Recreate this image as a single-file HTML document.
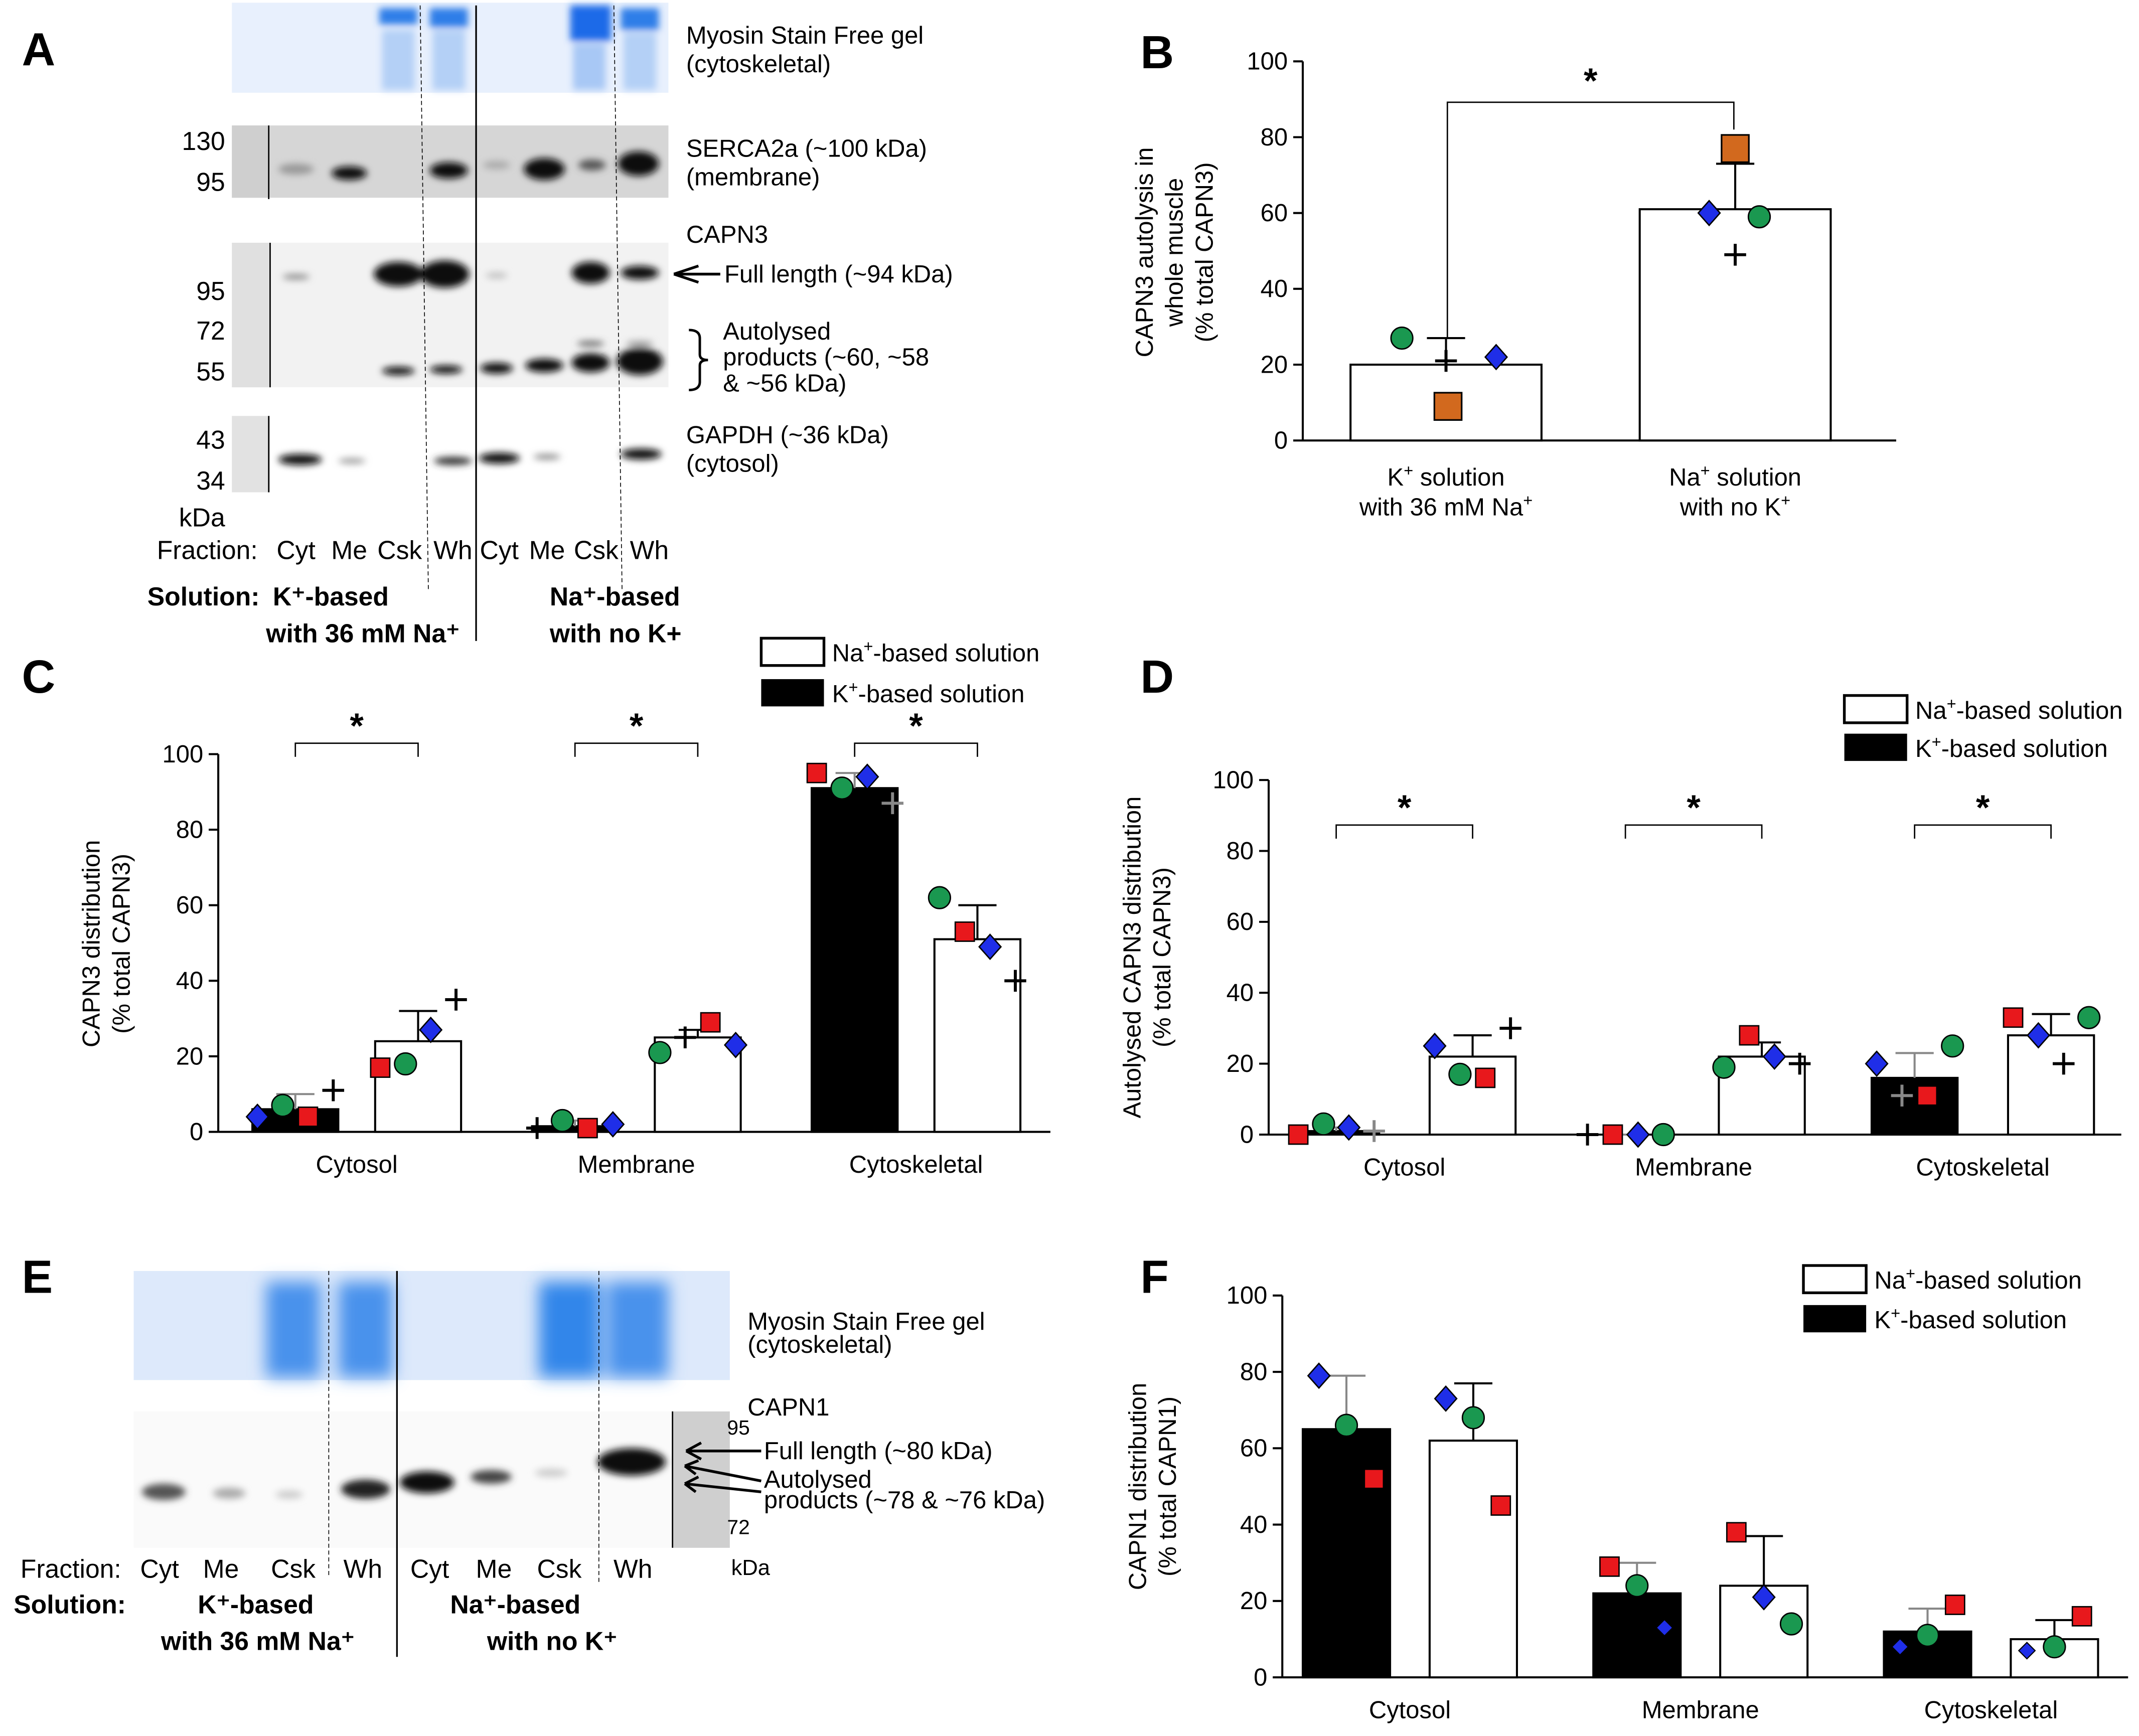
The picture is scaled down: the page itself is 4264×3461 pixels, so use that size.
<!DOCTYPE html>
<html><head><meta charset="utf-8">
<style>
html,body{margin:0;padding:0;background:#fff;}
svg{display:block;font-family:"Liberation Sans",Arial,sans-serif;}
</style></head>
<body>
<svg id="fig" xmlns="http://www.w3.org/2000/svg" width="4264" height="3461" viewBox="0 0 1568 1273" preserveAspectRatio="none">
<defs>
<filter id="bl" x="-50%" y="-200%" width="200%" height="500%"><feGaussianBlur stdDeviation="2.5"/></filter>
<filter id="bl2" x="-50%" y="-50%" width="200%" height="200%"><feGaussianBlur stdDeviation="6"/></filter>
</defs>

<!-- ===== Panel A ===== -->
<g>
<text x="16" y="48" font-size="34" font-weight="bold">A</text>
<rect x="170" y="2" width="320" height="66" fill="#e8f0fd"/>
<g filter="url(#bl)">
<rect x="278" y="6" width="28" height="12" fill="#2f7ee8"/><rect x="315" y="6" width="28" height="14" fill="#2f7ee8"/>
<rect x="418" y="4" width="30" height="26" fill="#1a6ae8"/><rect x="455" y="6" width="28" height="16" fill="#2f7ee8"/>
<rect x="280" y="22" width="24" height="44" fill="#b4d0f6"/><rect x="317" y="22" width="24" height="44" fill="#b4d0f6"/>
<rect x="420" y="32" width="24" height="34" fill="#a8c8f5"/><rect x="457" y="24" width="24" height="42" fill="#b4d0f6"/>
</g>
<rect x="170" y="92" width="320" height="53" fill="#d6d6d6"/>
<rect x="170" y="178" width="320" height="106" fill="#f2f2f2"/>
<rect x="170" y="305" width="28" height="56" fill="#e2e2e2"/>
<g filter="url(#bl)" fill="#111">
<ellipse cx="217" cy="124" rx="13" ry="4" fill="#999"/><ellipse cx="256" cy="127" rx="13" ry="5"/>
<ellipse cx="329" cy="125" rx="14" ry="6"/><ellipse cx="364" cy="121" rx="10" ry="3" fill="#aaa"/>
<ellipse cx="399" cy="124" rx="15" ry="8"/><ellipse cx="434" cy="121" rx="10" ry="4" fill="#555"/><ellipse cx="468" cy="120" rx="15" ry="9"/>
<ellipse cx="217" cy="203" rx="10" ry="2" fill="#888"/>
<ellipse cx="292" cy="201" rx="18" ry="9"/><ellipse cx="326" cy="201" rx="18" ry="10"/>
<ellipse cx="364" cy="202" rx="8" ry="2" fill="#bbb"/>
<ellipse cx="433" cy="200" rx="14" ry="8"/><ellipse cx="469" cy="200" rx="14" ry="5"/>
<ellipse cx="292" cy="272" rx="12" ry="3"/><ellipse cx="327" cy="271" rx="12" ry="3"/>
<ellipse cx="364" cy="270" rx="12" ry="4"/><ellipse cx="399" cy="268" rx="14" ry="5"/>
<ellipse cx="433" cy="266" rx="14" ry="7"/><ellipse cx="469" cy="265" rx="17" ry="10"/>
<ellipse cx="433" cy="252" rx="10" ry="2" fill="#666"/><ellipse cx="469" cy="252" rx="10" ry="2" fill="#999"/>
<ellipse cx="220" cy="337" rx="16" ry="4"/><ellipse cx="258" cy="338" rx="10" ry="2" fill="#999"/>
<ellipse cx="332" cy="338" rx="14" ry="3" fill="#333"/><ellipse cx="366" cy="336" rx="15" ry="4"/>
<ellipse cx="401" cy="335" rx="10" ry="2" fill="#888"/><ellipse cx="470" cy="333" rx="15" ry="4"/>
</g>
<rect x="170" y="92" width="27" height="53" fill="#cfcfcf"/>
<rect x="170" y="178" width="28" height="106" fill="#e0e0e0"/>
<line x1="197" y1="92" x2="197" y2="146" stroke="#000" stroke-width="1"/>
<line x1="198" y1="178" x2="198" y2="284" stroke="#000" stroke-width="1"/>
<line x1="197" y1="305" x2="197" y2="361" stroke="#000" stroke-width="1"/>
<line x1="349" y1="4" x2="349" y2="470" stroke="#000" stroke-width="1.2"/>
<line x1="308" y1="4" x2="314" y2="432" stroke="#000" stroke-width="0.6" stroke-dasharray="3,2"/>
<line x1="450" y1="4" x2="456" y2="432" stroke="#000" stroke-width="0.6" stroke-dasharray="3,2"/>
<g font-size="19" text-anchor="end">
<text x="165" y="110">130</text><text x="165" y="140">95</text>
<text x="165" y="220">95</text><text x="165" y="249">72</text><text x="165" y="279">55</text>
<text x="165" y="329">43</text><text x="165" y="359">34</text><text x="165" y="386">kDa</text>
</g>
<g font-size="19">
<text x="115" y="410">Fraction:</text>
<text x="217" y="410" text-anchor="middle">Cyt</text><text x="256" y="410" text-anchor="middle">Me</text>
<text x="293" y="410" text-anchor="middle">Csk</text><text x="332" y="410" text-anchor="middle">Wh</text>
<text x="366" y="410" text-anchor="middle">Cyt</text><text x="401" y="410" text-anchor="middle">Me</text>
<text x="437" y="410" text-anchor="middle">Csk</text><text x="476" y="410" text-anchor="middle">Wh</text>
</g>
<g font-size="19" font-weight="bold">
<text x="108" y="444">Solution:</text><text x="200" y="444">K⁺-based</text><text x="195" y="471">with 36 mM Na⁺</text>
<text x="403" y="444">Na⁺-based</text><text x="403" y="471">with no K+</text>
</g>
<g font-size="18">
<text x="503" y="32">Myosin Stain Free gel</text><text x="503" y="53">(cytoskeletal)</text>
<text x="503" y="115">SERCA2a (~100 kDa)</text><text x="503" y="136">(membrane)</text>
<text x="503" y="178">CAPN3</text>
<text x="531" y="207">Full length (~94 kDa)</text>
<text x="530" y="249">Autolysed</text><text x="530" y="268">products (~60, ~58</text><text x="530" y="287">&amp; ~56 kDa)</text>
<text x="503" y="325">GAPDH (~36 kDa)</text><text x="503" y="346">(cytosol)</text>
</g>
<path d="M528 201 L494 201 M494 201 L512 195 M494 201 L512 207" stroke="#000" stroke-width="2" fill="none"/>
<path d="M505 242 q8 0 8 6 v12 q0 4 6 4 q-6 0 -6 4 v12 q0 6 -8 6" stroke="#000" stroke-width="1.8" fill="none"/>
</g>

<!-- ===== Panel E ===== -->
<g>
<text x="16" y="948" font-size="34" font-weight="bold">E</text>
<rect x="98" y="932" width="437" height="80" fill="#dde9fb"/>
<g filter="url(#bl2)" fill="#4a92ec">
<rect x="195" y="940" width="40" height="70"/><rect x="248" y="940" width="40" height="70"/>
<rect x="395" y="940" width="45" height="70" fill="#3386ea"/><rect x="445" y="940" width="45" height="70"/>
</g>
<rect x="98" y="1035" width="395" height="100" fill="#fafafa"/>
<rect x="493" y="1035" width="42" height="100" fill="#cfcfcf"/>
<line x1="493" y1="1035" x2="493" y2="1135" stroke="#000"/>
<g filter="url(#bl)" fill="#111">
<ellipse cx="120" cy="1094" rx="16" ry="6" fill="#555"/><ellipse cx="168" cy="1095" rx="12" ry="4" fill="#aaa"/>
<ellipse cx="212" cy="1096" rx="10" ry="3" fill="#ccc"/><ellipse cx="268" cy="1092" rx="18" ry="7" fill="#222"/>
<ellipse cx="313" cy="1087" rx="20" ry="8"/><ellipse cx="360" cy="1083" rx="15" ry="5" fill="#444"/>
<ellipse cx="404" cy="1080" rx="12" ry="3" fill="#ccc"/><ellipse cx="463" cy="1072" rx="25" ry="10"/>
</g>
<line x1="291" y1="932" x2="291" y2="1215" stroke="#000" stroke-width="1.2"/>
<line x1="241" y1="932" x2="241" y2="1155" stroke="#000" stroke-width="0.6" stroke-dasharray="3,2"/>
<line x1="439" y1="932" x2="439" y2="1160" stroke="#000" stroke-width="0.6" stroke-dasharray="3,2"/>
<g font-size="18">
<text x="548" y="975">Myosin Stain Free gel</text><text x="548" y="992">(cytoskeletal)</text>
<text x="548" y="1038">CAPN1</text>
<text x="560" y="1070">Full length (~80 kDa)</text>
<text x="560" y="1091">Autolysed</text><text x="560" y="1106">products (~78 &amp; ~76 kDa)</text>
<text x="533" y="1052" font-size="15">95</text><text x="533" y="1125" font-size="15">72</text>
<text x="536" y="1155" font-size="16">kDa</text>
</g>
<path d="M558 1064 L503 1064 M503 1064 L514 1058 M503 1064 L514 1070 M558 1086 L502 1075 M502 1075 L512 1071 M502 1075 L510 1081 M558 1094 L502 1088 M502 1088 L512 1083 M502 1088 L510 1094" stroke="#000" stroke-width="2" fill="none"/>
<g font-size="19">
<text x="15" y="1157">Fraction:</text>
<text x="117" y="1157" text-anchor="middle">Cyt</text><text x="162" y="1157" text-anchor="middle">Me</text>
<text x="215" y="1157" text-anchor="middle">Csk</text><text x="266" y="1157" text-anchor="middle">Wh</text>
<text x="315" y="1157" text-anchor="middle">Cyt</text><text x="362" y="1157" text-anchor="middle">Me</text>
<text x="410" y="1157" text-anchor="middle">Csk</text><text x="464" y="1157" text-anchor="middle">Wh</text>
</g>
<g font-size="19" font-weight="bold">
<text x="10" y="1183">Solution:</text><text x="145" y="1183">K⁺-based</text><text x="118" y="1210">with 36 mM Na⁺</text>
<text x="330" y="1183">Na⁺-based</text><text x="357" y="1210">with no K⁺</text>
</g>
</g>

<g id="charts"></g>
</svg>

<script>
// ---------- data ----------
const categoriesCDF = ["Cytosol", "Membrane", "Cytoskeletal"];
const yTicks = [0, 20, 40, 60, 80, 100];

// Panel B
const bCategories = ["K+ solution with 36 mM Na+", "Na+ solution with no K+"];
const bMeans = [20, 61];
const bErr = [27, 73];
const bPoints = [[["circle",27],["plus",21],["diamond",22],["orange",9]],
                 [["orange",77],["diamond",60],["circle",59],["plus",49]]];
// horizontal jitter (layout only, fraction of bar width from centre)
const bJitter = [[-0.22, 0, 0.25, 0.01], [0, -0.13, 0.12, 0]];

// Panel C
const cMeansK = [6, 1.5, 91];
const cMeansNa = [24, 25, 51];
const cErrK = [10, 3, 95];
const cErrNa = [32, 27, 60];
const cPointsK = [[["diamond",4],["circle",7],["square",4],["plus",11]],
                  [["plus",1],["circle",3],["square",1],["diamond",2]],
                  [["square",95],["circle",91],["diamond",94],["gplus",87]]];
const cPointsNa = [[["square",17],["circle",18],["diamond",27],["plus",35]],
                   [["circle",21],["plus",25],["square",29],["diamond",23]],
                   [["circle",62],["square",53],["diamond",49],["plus",40]]];

// Panel D
const dMeansK = [1, 0, 16];
const dMeansNa = [22, 22, 28];
const dErrK = [2, 0, 23];
const dErrNa = [28, 26, 34];
const dPointsK = [[["square",0],["circle",3],["diamond",2],["gplus",1]],
                  [["plus",0],["square",0],["diamond",0],["circle",0]],
                  [["diamond",20],["gplus",11],["square",11],["circle",25]]];
const dPointsNa = [[["diamond",25],["circle",17],["square",16],["plus",30]],
                   [["circle",19],["square",28],["diamond",22],["plus",20]],
                   [["square",33],["diamond",28],["plus",20],["circle",33]]];

// Panel F
const fMeansK = [65, 22, 12];
const fMeansNa = [62, 24, 10];
const fErrK = [79, 30, 18];
const fErrNa = [77, 37, 15];
const fPointsK = [[["diamond",79],["circle",66],["square",52]],
                  [["square",29],["circle",24],["sdiamond",13]],
                  [["sdiamond",8],["circle",11],["square",19]]];
const fPointsNa = [[["diamond",73],["circle",68],["square",45]],
                   [["square",38],["diamond",21],["circle",14]],
                   [["sdiamond",7],["circle",8],["square",16]]];

// ---------- drawing ----------
const NS = "http://www.w3.org/2000/svg";
const root = document.getElementById("charts");
function mk(tag, attrs, parent) {
  const e = document.createElementNS(NS, tag);
  for (const k in attrs) e.setAttribute(k, attrs[k]);
  (parent || root).appendChild(e);
  return e;
}
function txt(s, attrs, parent) { const t = mk("text", attrs, parent); t.textContent = s; return t; }

function marker(kind, cx, cy, g) {
  let e;
  if (kind === "square") e = mk("rect", {x: cx-7, y: cy-7, width: 14, height: 14, fill: "#e8181c", stroke: "#000", "stroke-width": 1}, g);
  else if (kind === "orange") e = mk("rect", {x: cx-10, y: cy-10, width: 20, height: 20, fill: "#d2691e", stroke: "#000", "stroke-width": 1.2}, g);
  else if (kind === "circle") e = mk("circle", {cx: cx, cy: cy, r: 8, fill: "#1a9850", stroke: "#000", "stroke-width": 1}, g);
  else if (kind === "diamond") e = mk("path", {d: `M${cx} ${cy-9} L${cx+8} ${cy} L${cx} ${cy+9} L${cx-8} ${cy}Z`, fill: "#1f2ee8", stroke: "#000", "stroke-width": 1}, g);
  else if (kind === "sdiamond") e = mk("path", {d: `M${cx} ${cy-6} L${cx+6} ${cy} L${cx} ${cy+6} L${cx-6} ${cy}Z`, fill: "#1f2ee8", stroke: "#000", "stroke-width": 0.8}, g);
  else e = mk("path", {d: `M${cx-8} ${cy} H${cx+8} M${cx} ${cy-8} V${cy+8}`, stroke: kind === "gplus" ? "#888" : "#000", "stroke-width": 2.2, fill: "none"}, g);
  
  
}

function yAxis(cfg, g) {
  const y = v => cfg.y0 - (v / 100) * (cfg.y0 - cfg.y100);
  const ax = mk("line", {x1: cfg.ax, y1: cfg.y0, x2: cfg.ax, y2: cfg.y100, stroke: "#000", "stroke-width": 1.5}, g);
  
  
  const xl = mk("line", {x1: cfg.ax, y1: cfg.y0, x2: cfg.xEnd, y2: cfg.y0, stroke: "#000", "stroke-width": 1.5}, g);
  
  
  yTicks.forEach(t => {
    mk("line", {x1: cfg.ax - 7, y1: y(t), x2: cfg.ax, y2: y(t), stroke: "#000", "stroke-width": 1.5}, g);
    const tl = txt(String(t), {x: cfg.ax - 11, y: y(t) + 6, "font-size": 18, "text-anchor": "end"}, g);
    
    
  });
  return y;
}

function bar(x, w, v, err, black, y, g, points, jit) {
  const r = mk("rect", {x: x, y: y(v), width: w, height: y(0) - y(v), fill: black ? "#000" : "#fff", stroke: "#000", "stroke-width": 1.5}, g);
  
  
  const cx = x + w / 2;
  const eb = mk("path", {d: `M${cx} ${y(v)} V${y(err)} M${cx-14} ${y(err)} H${cx+14}`, stroke: black ? "#888" : "#000", "stroke-width": 1.5, fill: "none"}, g);
  
  
  const n = points.length;
  points.forEach((p, i) => {
    const off = jit ? jit[i] : (n === 4 ? [-0.42, -0.14, 0.14, 0.42][i] : [-0.3, 0, 0.3][i]);
    marker(p[0], cx + off * w * 1.05, y(p[1]), g);
  });
}

function sig(x1, x2, yy, g) {
  const b = mk("path", {d: `M${x1} ${yy+10} V${yy} H${x2} V${yy+10}`, stroke: "#000", "stroke-width": 1, fill: "none"}, g);
  
  
  const s = txt("*", {x: (x1 + x2) / 2, y: yy - 4, "font-size": 26, "font-weight": "bold", "text-anchor": "middle"}, g);
  
  
}

function legend(x, y1, y2, g) {
  const a = mk("rect", {x: x, y: y1, width: 46, height: 20, fill: "#fff", stroke: "#000", "stroke-width": 2}, g);
  
  
  const b = mk("rect", {x: x, y: y2, width: 46, height: 20, fill: "#000"}, g);
  
  
  const t1 = mk("text", {x: x + 52, y: y1 + 17, "font-size": 18}, g);
  t1.innerHTML = 'Na<tspan dy="-7" font-size="12">+</tspan><tspan dy="7">-based solution</tspan>';
  
  
  const t2 = mk("text", {x: x + 52, y: y2 + 17, "font-size": 18}, g);
  t2.innerHTML = 'K<tspan dy="-7" font-size="12">+</tspan><tspan dy="7">-based solution</tspan>';
  
  
}

function yTitle(lines, x, cy, g) {
  const t = mk("text", {transform: `translate(${x},${cy}) rotate(-90)`, "font-size": 18, "text-anchor": "middle"}, g);
  lines.forEach((l, i) => {
    const s = mk("tspan", {x: 0, dy: i === 0 ? 0 : 22}, t);
    s.textContent = l;
  });
  
  
}

function groupedChart(cfg, meansK, meansNa, errK, errNa, ptsK, ptsNa) {
  const g = mk("g", {});
  
  
  const y = yAxis(cfg, g);
  categoriesCDF.forEach((c, i) => {
    const gx = cfg.g0 + i * cfg.gStep;
    bar(gx, cfg.bw, meansK[i], errK[i], true, y, g, ptsK[i]);
    bar(gx + cfg.gap, cfg.bw, meansNa[i], errNa[i], false, y, g, ptsNa[i]);
    const cl = txt(c, {x: gx + (cfg.gap + cfg.bw) / 2, y: cfg.y0 + 30, "font-size": 18, "text-anchor": "middle"}, g);
    
    
    if (cfg.sigY) sig(gx + cfg.bw / 2, gx + cfg.gap + cfg.bw / 2, cfg.sigY, g);
  });
  return g;
}

// Panel B
(function () {
  const g = mk("g", {});
  
  
  const cfg = {ax: 955, y0: 323, y100: 45, xEnd: 1390};
  const y = yAxis(cfg, g);
  const xs = [990, 1202];
  bMeans.forEach((v, i) => bar(xs[i], 140, v, bErr[i], false, y, g, bPoints[i], bJitter[i]));
  const br = mk("path", {d: `M1061 ${y(bErr[0])} V75 H1271 V95`, stroke: "#000", "stroke-width": 1, fill: "none"}, g);
  
  
  const st = txt("*", {x: 1166, y: 68, "font-size": 26, "font-weight": "bold", "text-anchor": "middle"}, g);
  
  
  const l1 = mk("text", {x: 1060, y: 356, "font-size": 18, "text-anchor": "middle"}, g);
  l1.innerHTML = 'K<tspan dy="-7" font-size="12">+</tspan><tspan dy="7"> solution</tspan><tspan x="1060" dy="22">with 36 mM Na</tspan><tspan dy="-7" font-size="12">+</tspan>';
  
  
  const l2 = mk("text", {x: 1272, y: 356, "font-size": 18, "text-anchor": "middle"}, g);
  l2.innerHTML = 'Na<tspan dy="-7" font-size="12">+</tspan><tspan dy="7"> solution</tspan><tspan x="1272" dy="22">with no K</tspan><tspan dy="-7" font-size="12">+</tspan>';
  
  
  yTitle(["CAPN3 autolysis in", "whole muscle", "(% total CAPN3)"], 845, 185, g);
  const L = txt("B", {x: 836, y: 50, "font-size": 34, "font-weight": "bold"}, g);
  
  
})();

// Panel C
(function () {
  const g = groupedChart({name: "panel-c-chart", ax: 160, y0: 830, y100: 553, xEnd: 770, g0: 185, gStep: 205, bw: 63, gap: 90, sigY: 545},
    cMeansK, cMeansNa, cErrK, cErrNa, cPointsK, cPointsNa);
  legend(558, 468, 498, g);
  yTitle(["CAPN3 distribution", "(% total CAPN3)"], 73, 692, g);
  const L = txt("C", {x: 16, y: 508, "font-size": 34, "font-weight": "bold"}, g);
  
  
})();

// Panel D
(function () {
  const g = groupedChart({name: "panel-d-chart", ax: 930, y0: 832, y100: 572, xEnd: 1555, g0: 948, gStep: 212, bw: 63, gap: 100, sigY: 605},
    dMeansK, dMeansNa, dErrK, dErrNa, dPointsK, dPointsNa);
  legend(1352, 510, 538, g);
  yTitle(["Autolysed CAPN3 distribution", "(% total CAPN3)"], 836, 702, g);
  const L = txt("D", {x: 836, y: 508, "font-size": 34, "font-weight": "bold"}, g);
  
  
})();

// Panel F
(function () {
  const g = groupedChart({name: "panel-f-chart", ax: 940, y0: 1230, y100: 950, xEnd: 1560, g0: 955, gStep: 213, bw: 64, gap: 93, sigY: 0},
    fMeansK, fMeansNa, fErrK, fErrNa, fPointsK, fPointsNa);
  legend(1322, 928, 957, g);
  yTitle(["CAPN1 distribution", "(% total CAPN1)"], 840, 1090, g);
  const L = txt("F", {x: 836, y: 948, "font-size": 34, "font-weight": "bold"}, g);
  
  
})();
</script>
</body></html>
